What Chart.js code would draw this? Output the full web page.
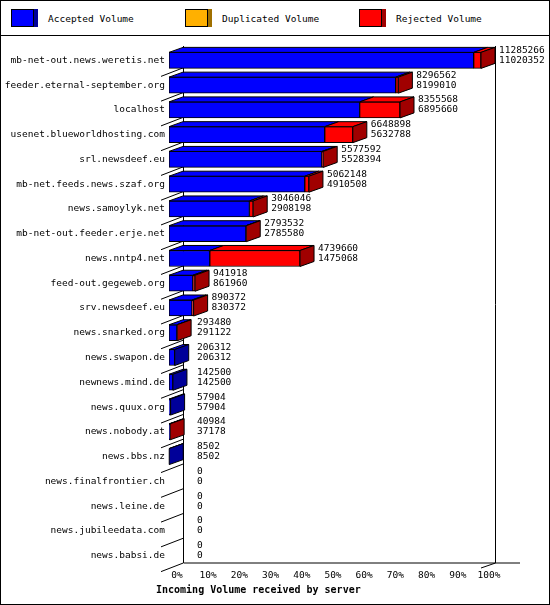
<!DOCTYPE html><html><head><meta charset="utf-8">
<script src="https://cdn.jsdelivr.net/npm/chart.js@4"></script>
<style>
body{margin:0;background:#fff;font-family:"DejaVu Sans Mono",monospace;}
#wrap{position:absolute;left:0;top:0;width:548px;height:603px;border:1px solid #000;}
#leg{height:34px;border-bottom:1px solid #000;position:relative;font-size:9.5px;}
.it{position:absolute;top:8px;display:flex;align-items:center;}
.bx{width:21px;height:16px;border:1px solid #000;margin-right:14px;position:relative;}
#cv{position:absolute;left:0;top:35px;}
</style></head><body>
<div id="wrap"><div id="leg">
<div class="it" style="left:10px"><div class="bx" style="background:#0000ff;box-shadow:4px 0 0 #000099"></div>Accepted Volume</div>
<div class="it" style="left:184px"><div class="bx" style="background:#ffb000;box-shadow:4px 0 0 #a07000"></div>Duplicated Volume</div>
<div class="it" style="left:358px"><div class="bx" style="background:#ff0000;box-shadow:4px 0 0 #a00000"></div>Rejected Volume</div>
</div>
<canvas id="cv" width="548" height="568"></canvas></div>
<script>
const servers=["mb-net-out.news.weretis.net","feeder.eternal-september.org","localhost","usenet.blueworldhosting.com","srl.newsdeef.eu","mb-net.feeds.news.szaf.org","news.samoylyk.net","mb-net-out.feeder.erje.net","news.nntp4.net","feed-out.gegeweb.org","srv.newsdeef.eu","news.snarked.org","news.swapon.de","newnews.mind.de","news.quux.org","news.nobody.at","news.bbs.nz","news.finalfrontier.ch","news.leine.de","news.jubileedata.com","news.babsi.de"];
const offered=[11285266,8296562,8355568,6648898,5577592,5062148,3046046,2793532,4739660,941918,890372,293480,206312,142500,57904,40984,8502,0,0,0,0];
const accepted=[11020352,8199010,6895660,5632788,5528394,4910508,2908198,2785580,1475068,861960,830372,291122,206312,142500,57904,37178,8502,0,0,0,0];
const xTicks=["0%","10%","20%","30%","40%","50%","60%","70%","80%","90%","100%"];
const maxV=Math.max(...offered);
const accPct=accepted.map(v=>v/maxV*100);
const dupPct=servers.map(()=>0);
const rejPct=offered.map((v,i)=>(v-accepted[i])/maxV*100);
const DX=14,DY=5,FONT='9.5px "DejaVu Sans Mono", monospace';
const sides={"Accepted":"#000099","Duplicated":"#a07000","Rejected":"#a00000"};
const plug={id:'p3d',
beforeDatasetsDraw(c){const x=c.ctx,a=c.chartArea;x.save();x.strokeStyle='#000';x.lineWidth=1;
 x.beginPath();x.moveTo(a.left+DX+.5,a.top-2);x.lineTo(a.left+DX+.5,a.bottom-DY);x.lineTo(a.right+DX+25,a.bottom-DY);
 x.moveTo(a.right+DX+.5,a.top-2);x.lineTo(a.right+DX+.5,a.bottom-DY);x.lineTo(a.right,a.bottom);
 const ys=c.scales.y;for(let i=0;i<servers.length;i++){const b=ys.getPixelForValue(i)+12;x.moveTo(a.left-8,b+4);x.lineTo(a.left+DX,b-DY+.5);}
 x.stroke();
 x.fillStyle='#000';x.font=FONT;x.textAlign='right';x.textBaseline='middle';
 servers.forEach((s,i)=>x.fillText(s,a.left-4,ys.getPixelForValue(i)));
 x.textAlign='center';x.textBaseline='top';
 xTicks.forEach((t,i)=>{x.fillText(t,c.scales.x.getPixelForValue(i*10)+8,a.bottom+3);});
 x.font='bold 10px "DejaVu Sans Mono", monospace';x.textAlign='left';x.fillText('Incoming Volume received by server',155,a.bottom+17);
 x.restore();},
afterDatasetsDraw(c){const x=c.ctx,a=c.chartArea;x.save();x.strokeStyle='#000';x.lineWidth=1;
 const metas=c.data.datasets.map((d,i)=>c.getDatasetMeta(i));
 servers.forEach((s,i)=>{let last=null;
  metas.forEach((m,di)=>{const e=m.data[i];if(!e)return;const l=Math.min(e.x,e.base),r=Math.max(e.x,e.base);if(r-l<0.01)return;
   const t=e.y-e.height/2;const col=c.data.datasets[di].backgroundColor;
   x.fillStyle=col;x.beginPath();x.moveTo(l,t);x.lineTo(l+DX,t-DY);x.lineTo(r+DX,t-DY);x.lineTo(r,t);x.closePath();x.fill();x.stroke();
   last={r,t,h:e.height,side:sides[c.data.datasets[di].label.split(' ')[0]]};});
  if(last){x.fillStyle=last.side;x.beginPath();x.moveTo(last.r,last.t);x.lineTo(last.r+DX,last.t-DY);x.lineTo(last.r+DX,last.t-DY+last.h);x.lineTo(last.r,last.t+last.h);x.closePath();x.fill();x.stroke();}
  const e=metas[0].data[i];let ex=c.scales.x.getPixelForValue(offered[i]/maxV*100)+DX+4;ex=Math.max(ex,a.left+DX+14);
  x.fillStyle='#000';x.font=FONT;x.textAlign='left';x.textBaseline='middle';
  x.fillText(String(offered[i]),ex,e.y-10);x.fillText(String(accepted[i]),ex,e.y);
 });x.restore();}};
new Chart(document.getElementById('cv'),{type:'bar',
data:{labels:servers,datasets:[
 {label:'Accepted Volume',data:accPct,backgroundColor:'#0000ff',borderColor:'#000',borderWidth:1,borderSkipped:false},
 {label:'Duplicated Volume',data:dupPct,backgroundColor:'#ffb000',borderColor:'#000',borderWidth:1,borderSkipped:false},
 {label:'Rejected Volume',data:rejPct,backgroundColor:'#ff0000',borderColor:'#000',borderWidth:1,borderSkipped:false}]},
options:{indexAxis:'y',responsive:false,animation:false,
 layout:{padding:{left:168,right:68,top:12,bottom:36}},
 plugins:{legend:{display:false},tooltip:{enabled:false}},
 datasets:{bar:{barThickness:16}},
 scales:{x:{stacked:true,min:0,max:100,display:false},y:{stacked:true,display:false}}},
plugins:[plug]});
</script></body></html>
